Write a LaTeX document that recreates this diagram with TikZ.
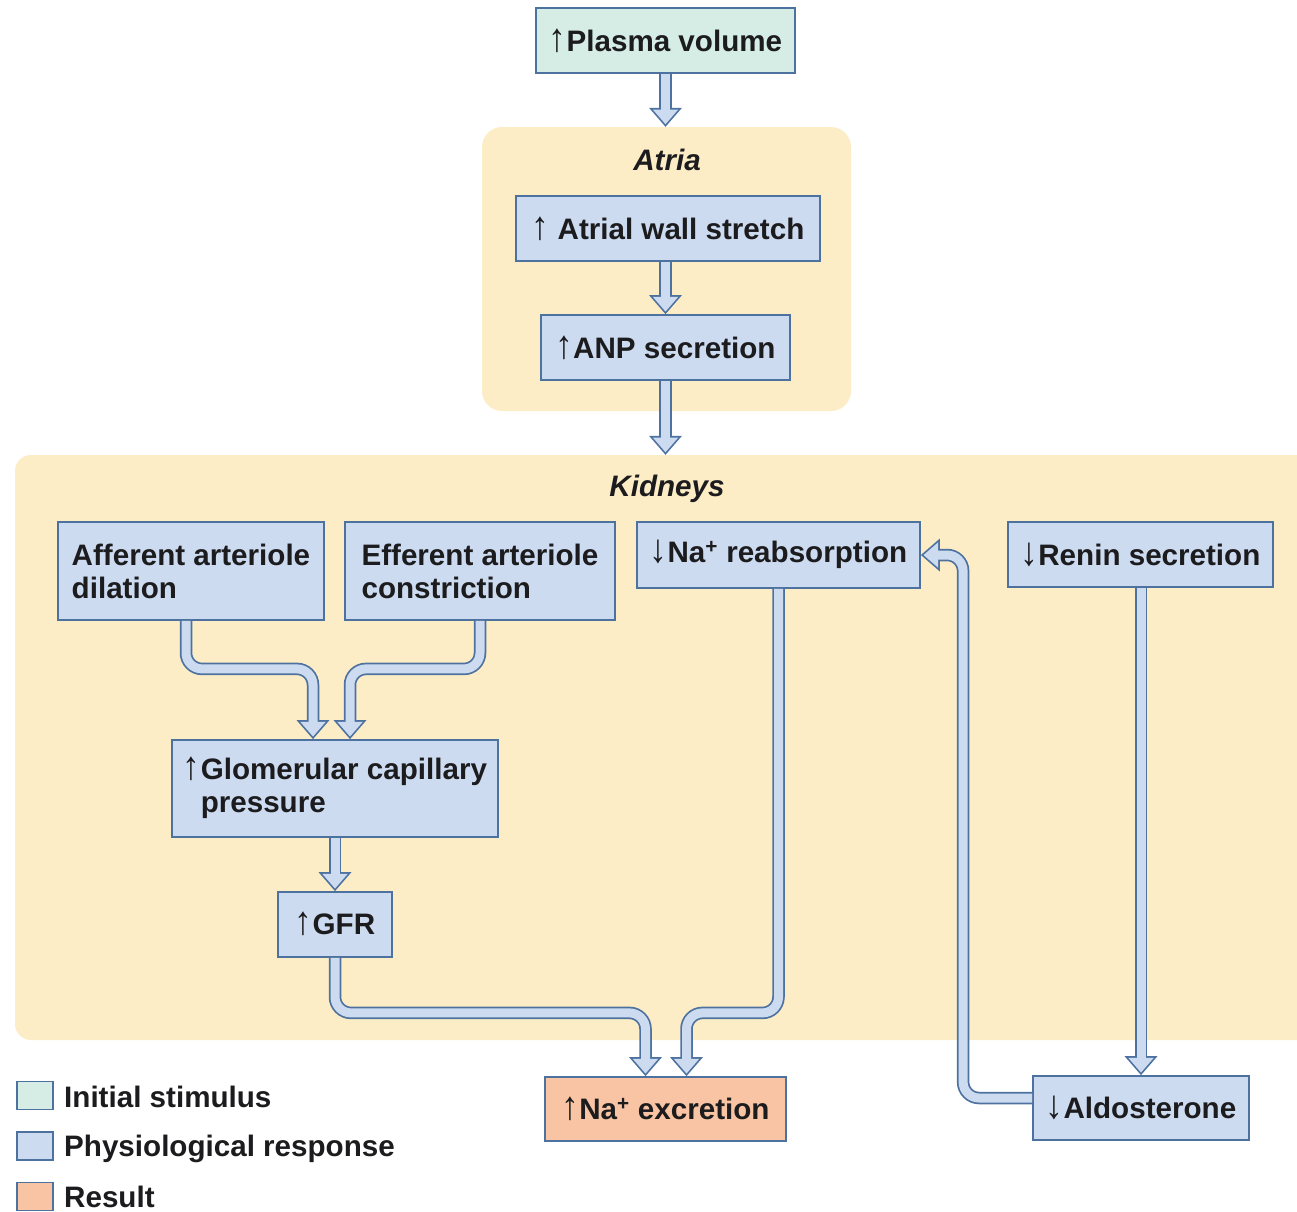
\documentclass[tikz,border=0pt]{standalone}
\usepackage{fontspec}
\usepackage{graphicx}
\setmainfont{Liberation Sans}
\usetikzlibrary{arrows.meta}
\definecolor{boxedge}{RGB}{78,114,160}
\definecolor{respfill}{RGB}{205,219,241}
\definecolor{stimfill}{RGB}{213,237,229}
\definecolor{resfill}{RGB}{248,196,164}
\definecolor{panelfill}{RGB}{253,237,198}
\definecolor{inktext}{RGB}{28,28,30}
\newcommand{\boxfont}{\fontsize{29.6}{33}\selectfont\bfseries}
\newcommand{\incr}{\smash{\scalebox{1.2}[1.35]{↑}}}
\newcommand{\decr}{\smash{\scalebox{1.2}[1.35]{↓}}}
\newcommand{\plusion}{\smash{\textsuperscript{+}}}
\tikzset{
  box/.style={draw=boxedge, line width=1.8pt, fill=respfill, inner sep=0pt, text=inktext, font=\boxfont},
  stim/.style={box, fill=stimfill},
  result/.style={box, fill=resfill},
  panel/.style={fill=panelfill, rounded corners=20pt, inner sep=0pt},
  paneltitle/.style={text=inktext, font=\boxfont\itshape},
  legendsq/.style={draw=boxedge, line width=1.2pt, minimum width=36pt, minimum height=28pt, inner sep=0pt},
  legendtext/.style={text=inktext, font=\boxfont, anchor=base west, inner sep=0pt},
  flow/.style={draw=respfill, line width=9pt, rounded corners=16pt, shorten >=2.6pt,
    -{Triangle[width=25.5pt, length=14.7pt, line width=0pt, color=respfill]},
    preaction={draw=boxedge, line width=12.5pt, shorten >=0pt,
      -{Triangle[width=33pt, length=19pt, line width=0pt, color=boxedge]}}}
}
\begin{document}
\begin{tikzpicture}[x=1pt,y=-1pt]
    \clip (0,0) rectangle (1297,1211);
    \node[panel, minimum width=369pt, minimum height=284pt] (atria) at (666.5,269) {};
    \node[paneltitle] at (667,160) {Atria};
    \node[panel, rounded corners=16pt, minimum width=1305pt, minimum height=585pt] (kidneys) at (667.5,747.5) {};
    \node[paneltitle] at (667,489) {Kidneys};
    \node[stim, minimum width=259pt, minimum height=65pt] (plasma) at (665.5,40.5) {\incr Plasma volume};
    \node[box, minimum width=304pt, minimum height=65pt] (stretch) at (668,228.5) {\incr{} Atrial wall stretch};
    \node[box, minimum width=249pt, minimum height=65pt] (anp) at (665.5,347.5) {\incr ANP secretion};
    \node[box, minimum width=266pt, minimum height=98pt, align=left] (aff) at (191,571) {Afferent arteriole\\dilation};
    \node[box, minimum width=270pt, minimum height=98pt, align=left] (eff) at (480,571) {Efferent arteriole\\constriction};
    \node[box, minimum width=283pt, minimum height=66pt] (nareab) at (778.5,555) {\decr Na\plusion{} reabsorption};
    \node[box, minimum width=265pt, minimum height=65pt] (renin) at (1140.5,554.5) {\decr Renin secretion};
    \node[box, minimum width=326pt, minimum height=97pt, align=left] (glom) at (335,788.5) {\incr Glomerular capillary\\\phantom{\incr}pressure};
    \node[box, minimum width=114pt, minimum height=65pt] (gfr) at (335,924.5) {\incr GFR};
    \node[result, minimum width=241pt, minimum height=64pt] (nax) at (665.5,1109) {\incr Na\plusion{} excretion};
    \node[box, minimum width=216pt, minimum height=64pt] (aldo) at (1141,1108) {\decr Aldosterone};
    \draw[flow] (plasma.south) -- (plasma.south |- atria.north);
    \draw[flow] (anp.north |- stretch.south) -- (anp.north);
    \draw[flow] (anp.south) -- (anp.south |- kidneys.north);
    \draw[flow] ([xshift=-5pt]aff.south) -- ++(0,48) -| ([xshift=-22pt]glom.north);
    \draw[flow] (eff.south) -- ++(0,48) -| ([xshift=15pt]glom.north);
    \draw[flow] (glom) -- (gfr);
    \draw[flow] (gfr.south) -- ++(0,55) -| ([xshift=-20pt]nax.north);
    \draw[flow] (nareab.south) -- ++(0,424) -| ([xshift=21pt]nax.north);
    \draw[flow] (renin.south -| aldo.north) -- (aldo.north);
    \draw[flow] ([yshift=10pt]aldo.west) -- ++(-69,0) |- (nareab.east);
    \node[legendsq, fill=stimfill] (lstim) at (35,1095.5) {};
    \node[legendsq, fill=respfill] (lresp) at (35,1146) {};
    \node[legendsq, fill=resfill] (lres) at (35,1196.5) {};
    \node[legendtext] at (64,1107) {Initial stimulus};
    \node[legendtext] at (64,1156) {Physiological response};
    \node[legendtext] at (64,1207) {Result};
\end{tikzpicture}
\end{document}
